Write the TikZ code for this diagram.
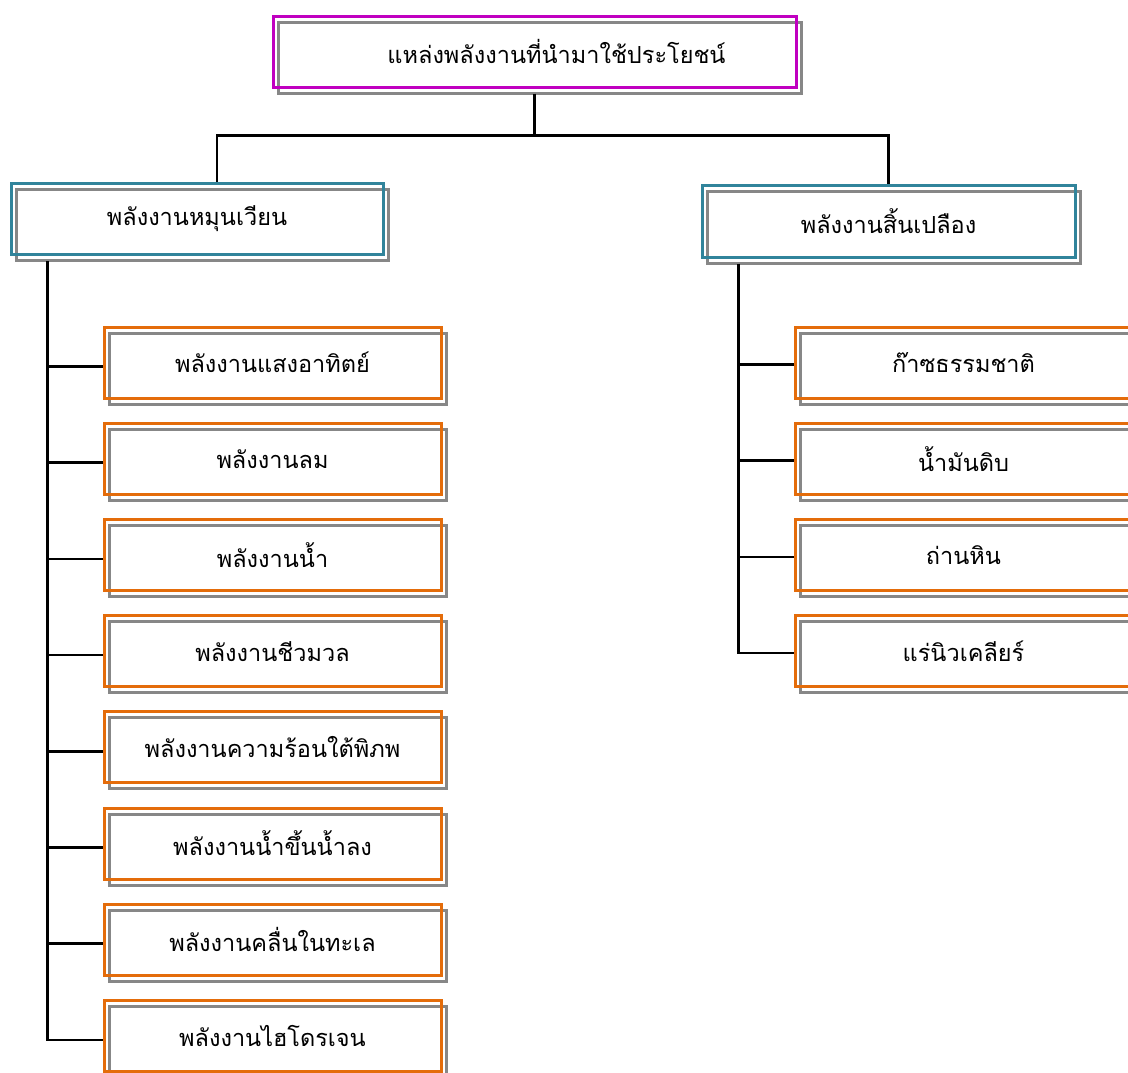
\documentclass[tikz,border=0pt]{standalone}
\usepackage{fontspec}
\newfontfamily\thaifont[Script=Thai]{Loma}
\definecolor{cmag}{RGB}{192,0,192}
\definecolor{cteal}{RGB}{49,132,155}
\definecolor{corange}{RGB}{228,108,10}
\definecolor{cgray}{RGB}{135,135,135}
\tikzset{
  box/.style={draw=#1, line width=3pt, rectangle, inner sep=0pt,
    font=\thaifont\fontsize{23.5}{27}\selectfont,
    preaction={draw=cgray, line width=3pt, transform canvas={shift={(5pt,-6pt)}}}},
  topbox/.style={box=cmag, minimum width=523pt, minimum height=71pt},
  midbox/.style={box=cteal, minimum width=372pt, minimum height=71pt},
  leafbox/.style={box=corange, minimum width=337pt, minimum height=71pt},
  conn/.style={draw=black, line width=2.5pt}
}
\begin{document}
\begin{tikzpicture}[x=1pt,y=-1pt]
\useasboundingbox (0,0) rectangle (1128,1072);
\clip (0,0) rectangle (1128,1072);
\node[topbox] (top) at (534.5,51.5) {\hspace*{44pt}แหล่งพลังงานที่นำมาใช้ประโยชน์};
\node[midbox] (L) at (197,219) {พลังงานหมุนเวียน};
\node[midbox, minimum width=373pt, minimum height=72pt] (R) at (888.5,221) {พลังงานสิ้นเปลือง};
\foreach \t [count=\i from 0] in {พลังงานแสงอาทิตย์,พลังงานลม,พลังงานน้ำ,พลังงานชีวมวล,พลังงานความร้อนใต้พิภพ,พลังงานน้ำขึ้นน้ำลง,พลังงานคลื่นในทะเล,พลังงานไฮโดรเจน}
  \node[leafbox] (l\i) at (272.5,362.5+96.2*\i) {\t};
\foreach \t [count=\i from 0] in {ก๊าซธรรมชาติ,น้ำมันดิบ,ถ่านหิน,แร่นิวเคลียร์}
  \node[leafbox] (r\i) at (963.5,362.5+96.2*\i) {\t};
% connectors
\draw[conn] ([yshift=-5pt]top.south) -- ++(0,42) coordinate (hub);
\draw[conn] ([xshift=20pt]L.north) |- (hub) -| (R.north);
\coordinate (lt) at ([xshift=38pt,yshift=-5pt]L.south west);
\coordinate (rt) at ([xshift=38pt,yshift=-5pt]R.south west);
\path ([yshift=-4pt]l7.west) coordinate (cl7);
\draw[conn] (lt) |- (cl7);
\foreach \i in {0,...,6}{
  \path ([yshift=-4pt]l\i.west) coordinate (cl\i);
  \draw[conn] (cl\i) -- (lt |- cl\i);
}
\path ([yshift=-2pt]r3.west) coordinate (cr3);
\draw[conn] (rt) |- (cr3);
\foreach \i in {0,1,2}{
  \path ([yshift=-2pt]r\i.west) coordinate (cr\i);
  \draw[conn] (cr\i) -- (rt |- cr\i);
}
\end{tikzpicture}
\end{document}
